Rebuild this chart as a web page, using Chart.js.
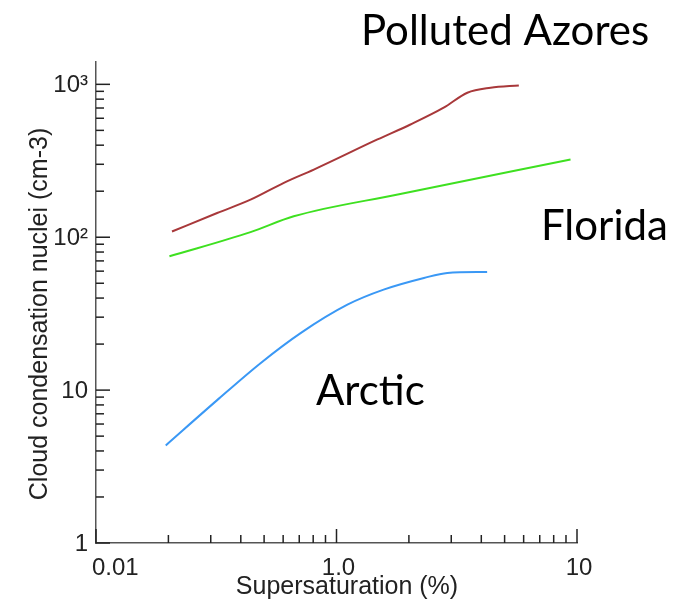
<!DOCTYPE html>
<html>
<head>
<meta charset="utf-8">
<script src="https://cdn.jsdelivr.net/npm/chart.js@4.4.0/dist/chart.umd.min.js"></script>
<style>
    html, body { margin: 0; padding: 0; background: #fff; }
    #wrap { width: 688px; height: 601px; }
</style>
</head>
<body>
<div id="wrap"><canvas id="mycanvas"></canvas></div>
<script>
// Data (supersaturation %, CCN per cm3)
var azoresX = [0.207, 0.319, 0.439, 0.604, 0.805, 1.48, 2.03, 2.79, 3.5, 4.37, 5.73];
var azoresY = [109, 144, 176, 227, 277, 436, 546, 703, 881, 950, 984];

var floridaX = [0.202, 0.439, 0.664, 1.82, 9.4];
var floridaY = [75, 108, 137, 191, 322];

var arcticX = [0.195, 0.319, 0.483, 0.709, 1.11, 1.57, 2.31, 2.89, 4.23];
var arcticY = [4.35, 8.6, 15.0, 23.6, 36.2, 45.4, 54.1, 58.4, 59.3];

// Tick labels (the original figure labels the left end "0.01")
var xTickValues = [0.1, 1, 10];
var xTickLabels = ["0.01", "1.0", "10"];
var yTickValues = [1, 10, 100, 1000];
var yTickLabels = ["1", "10", "10\u00b2", "10\u00b3"];

function toPoints(xs, ys) {
    var pts = [];
    for (var i in xs) {
        pts.push({ x: xs[i], y: ys[i] });
    }
    return pts;
}

// Ticks pointing inward, labels and region names
var axisDecor = {
    id: 'axisDecor',
    afterDraw: function(chart) {
        var ctx = chart.ctx;
        var xs = chart.scales.x;
        var ys = chart.scales.y;
        var area = chart.chartArea;
        var i, k, px, py;

        ctx.save();
        ctx.strokeStyle = '#222';
        ctx.lineWidth = 1.5;

        // x ticks
        for (i = 0; i < xTickValues.length; i++) {
            var d = xTickValues[i];
            px = xs.getPixelForValue(d);
            ctx.beginPath();
            ctx.moveTo(px, area.bottom);
            ctx.lineTo(px, area.bottom - 14);
            ctx.stroke();
            if (i < xTickValues.length - 1) {
                for (k = 2; k <= 9; k++) {
                    px = xs.getPixelForValue(d * k);
                    ctx.beginPath();
                    ctx.moveTo(px, area.bottom);
                    ctx.lineTo(px, area.bottom - 8);
                    ctx.stroke();
                }
            }
        }

        // y ticks
        for (i = 0; i < yTickValues.length; i++) {
            var v = yTickValues[i];
            py = ys.getPixelForValue(v);
            ctx.beginPath();
            ctx.moveTo(area.left, py);
            ctx.lineTo(area.left + 14, py);
            ctx.stroke();
            if (i < yTickValues.length - 1) {
                for (k = 2; k <= 9; k++) {
                    py = ys.getPixelForValue(v * k);
                    ctx.beginPath();
                    ctx.moveTo(area.left, py);
                    ctx.lineTo(area.left + 8, py);
                    ctx.stroke();
                }
            }
        }

        // tick labels
        ctx.fillStyle = '#222';
        ctx.font = '24px "Liberation Sans", Arial, sans-serif';
        ctx.textBaseline = 'alphabetic';
        for (i = 0; i < xTickValues.length; i++) {
            px = xs.getPixelForValue(xTickValues[i]);
            if (i === 0) {
                ctx.textAlign = 'left';
                ctx.fillText(xTickLabels[i], px - 4, area.bottom + 32);
            } else {
                ctx.textAlign = 'center';
                ctx.fillText(xTickLabels[i], px + 2, area.bottom + 32);
            }
        }
        ctx.textAlign = 'right';
        ctx.textBaseline = 'middle';
        for (i = 0; i < yTickValues.length; i++) {
            py = ys.getPixelForValue(yTickValues[i]);
            ctx.fillText(yTickLabels[i], area.left - 8, py + 1);
        }

        // axis titles
        ctx.font = '25px "Liberation Sans", Arial, sans-serif';
        ctx.textAlign = 'center';
        ctx.textBaseline = 'alphabetic';
        ctx.fillText('Supersaturation (%)', 347, 594);

        ctx.save();
        ctx.translate(47, 314);
        ctx.rotate(-Math.PI / 2);
        ctx.fillText('Cloud condensation nuclei (cm-3)', 0, 0);
        ctx.restore();

        // region names
        ctx.fillStyle = '#000';
        ctx.font = '42px Lato, "Open Sans", sans-serif';
        ctx.textAlign = 'left';
        ctx.fillText('Polluted Azores', 361, 45);
        ctx.fillText('Florida', 541, 240);
        ctx.fillText('Arctic', 316, 405);

        ctx.restore();
    }
};

var chartdata = {
    datasets: [{
        label: 'Polluted Azores',
        data: toPoints(azoresX, azoresY),
        borderColor: '#a8383a',
        borderWidth: 2,
        pointRadius: 0,
        cubicInterpolationMode: 'monotone'
    }, {
        label: 'Florida',
        data: toPoints(floridaX, floridaY),
        borderColor: '#3ee020',
        borderWidth: 2,
        pointRadius: 0,
        cubicInterpolationMode: 'monotone'
    }, {
        label: 'Arctic',
        data: toPoints(arcticX, arcticY),
        borderColor: '#3a98f5',
        borderWidth: 2,
        pointRadius: 0,
        cubicInterpolationMode: 'monotone'
    }]
};

var ctx = document.getElementById('mycanvas');

var cloudChart = new Chart(ctx, {
    type: 'line',
    data: chartdata,
    plugins: [axisDecor],
    options: {
        responsive: true,
        maintainAspectRatio: false,
        animation: false,
        layout: { padding: { top: 62, right: 111, left: 0, bottom: 0 } },
        plugins: {
            legend: { display: false },
            tooltip: { enabled: false }
        },
        scales: {
            x: {
                type: 'logarithmic',
                min: 0.1,
                max: 10,
                grid: { display: false },
                border: { display: true, color: '#555', width: 1.5 },
                ticks: { display: false },
                afterFit: function(scale) { scale.height = 58; }
            },
            y: {
                type: 'logarithmic',
                min: 1,
                max: 1400,
                grid: { display: false },
                border: { display: true, color: '#555', width: 1.5 },
                ticks: { display: false },
                afterFit: function(scale) { scale.width = 96; }
            }
        }
    }
});
</script>
</body>
</html>
